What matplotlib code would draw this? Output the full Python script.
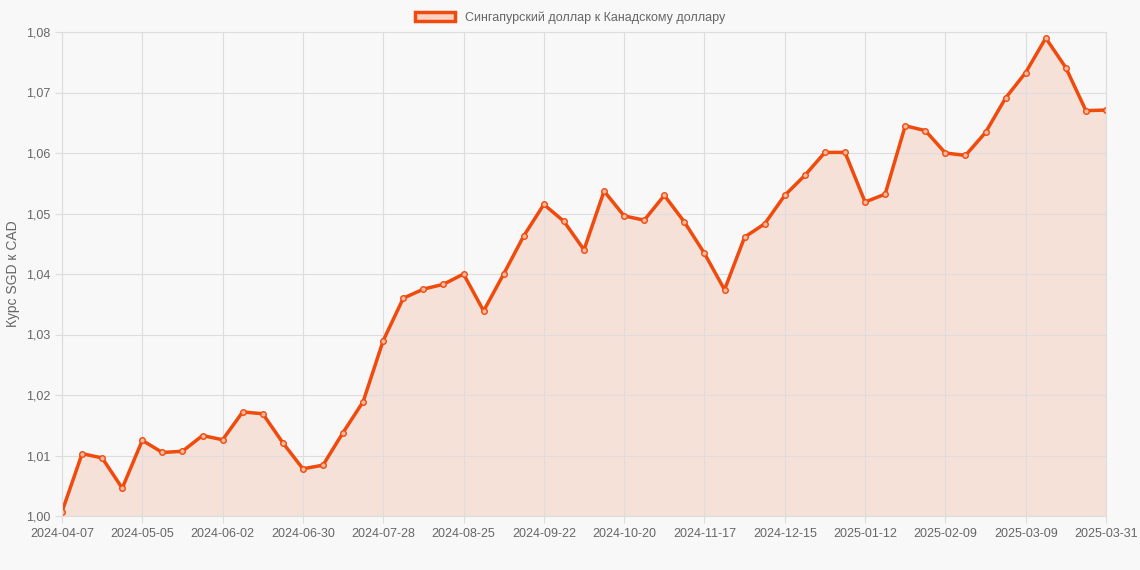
import matplotlib.pyplot as plt
from matplotlib.patches import Patch

plt.rcParams['font.family'] = ['Liberation Sans', 'DejaVu Sans']

rates = [1.0007, 1.0103, 1.0096, 1.0046, 1.0125, 1.0105, 1.0107, 1.0133, 1.0126, 1.0172,
         1.0169, 1.0121, 1.0078, 1.0084, 1.0138, 1.0189, 1.0290, 1.0360, 1.0375, 1.0383,
         1.0400, 1.0339, 1.0400, 1.0463, 1.0515, 1.0487, 1.0440, 1.0537, 1.0496, 1.0489,
         1.0530, 1.0486, 1.0434, 1.0374, 1.0461, 1.0483, 1.0530, 1.0563, 1.0601, 1.0601,
         1.0519, 1.0532, 1.0645, 1.0637, 1.0600, 1.0596, 1.0634, 1.0691, 1.0733, 1.0790,
         1.0741, 1.0670, 1.0671]
tick_pos = [0, 4, 8, 12, 16, 20, 24, 28, 32, 36, 40, 44, 48, 52]
tick_labels = ['2024-04-07', '2024-05-05', '2024-06-02', '2024-06-30', '2024-07-28',
               '2024-08-25', '2024-09-22', '2024-10-20', '2024-11-17', '2024-12-15',
               '2025-01-12', '2025-02-09', '2025-03-09', '2025-03-31']
yticks = [1.00, 1.01, 1.02, 1.03, 1.04, 1.05, 1.06, 1.07, 1.08]

line_c = '#f04a0c'
bg = '#f8f8f8'
x = list(range(len(rates)))

fig = plt.figure(figsize=(11.4, 5.7), dpi=100, facecolor=bg)
ax = fig.add_axes([62/1140, 1 - 516/570, (1106 - 62)/1140, (516 - 32)/570])
ax.set_facecolor(bg)

ax.fill_between(x, rates, 1.0, color=line_c, alpha=0.13, lw=0)
ax.plot(x, rates, color=line_c, lw=2.5, marker='o', ms=4,
        mfc='#f7b9a0', mec=line_c, mew=1.0)

ax.set_xlim(0, len(rates) - 1)
ax.set_ylim(1.0, 1.08)
ax.set_xticks(tick_pos)
ax.set_xticklabels(tick_labels)
ax.set_yticks(yticks)
ax.set_yticklabels([f'{v:.2f}'.replace('.', ',') for v in yticks])
ax.tick_params(colors='#666666', labelsize=9, length=5)
ax.tick_params(axis='both', color='#dddddd')
ax.grid(color='#dddddd', lw=0.8)
for s in ax.spines.values():
    s.set_color('#dddddd')
ax.set_ylabel('Курс SGD к CAD', color='#666666', fontsize=10)

h = Patch(facecolor='#f9d3c4', edgecolor=line_c, lw=2.5)
fig.legend([h], ['Сингапурский доллар к Канадскому доллару'], loc='upper center',
           bbox_to_anchor=(0.5, 1.0), frameon=False, fontsize=9,
           labelcolor='#666666', handlelength=3.2)

fig.savefig('out.png', dpi=100, facecolor=bg)
